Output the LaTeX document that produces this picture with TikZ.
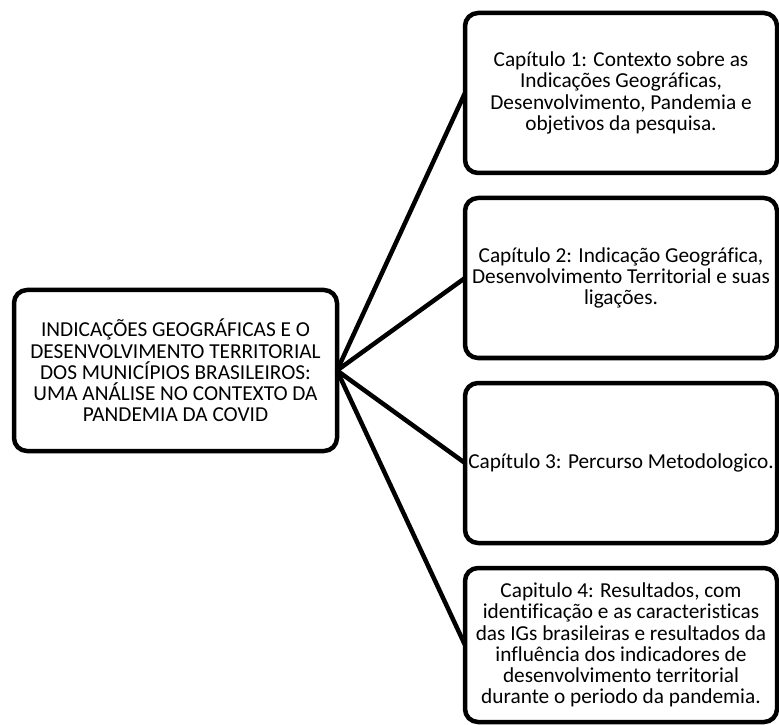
\documentclass[tikz,border=0pt]{standalone}
\usepackage{fontspec}
\setmainfont{Carlito}[Ligatures=NoCommon]
\begin{document}
\begin{tikzpicture}[x=1pt,y=1pt,
  box/.style={draw=black, line width=4.5pt, rounded corners=13pt, align=center,
    inner sep=0pt, outer sep=0pt, font=\fontsize{21.3}{21.3}\selectfont},
  conn/.style={draw=black, line width=4.5pt}]
\useasboundingbox (0,0) rectangle (779,724);
\node[box, minimum width=323pt, minimum height=161pt] (main) at (175.5,353.5)
  {INDICAÇÕES GEOGRÁFICAS E O\\DESENVOLVIMENTO TERRITORIAL\\DOS MUNICÍPIOS BRASILEIROS:\\UMA ANÁLISE NO CONTEXTO DA\\PANDEMIA DA COVID};
\node[box, minimum width=312pt, minimum height=160pt] (c1) at (621,631)
  {Capítulo 1: Contexto sobre as\\Indicações Geográficas,\\Desenvolvimento, Pandemia e\\objetivos da pesquisa.};
\node[box, minimum width=312pt, minimum height=160pt] (c2) at (621,446)
  {Capítulo 2: Indicação Geográfica,\\Desenvolvimento Territorial e suas\\ligações.};
\node[box, minimum width=312pt, minimum height=160pt] (c3) at (621,261)
  {Capítulo 3: Percurso Metodologico.};
\node[box, minimum width=312pt, minimum height=154pt] (c4) at (621,79)
  {Capitulo 4: Resultados, com\\identificação e as caracteristicas\\das IGs brasileiras e resultados da\\influência dos indicadores de\\desenvolvimento territorial\\durante o periodo da pandemia.};
\draw[conn] (main.east) -- (c1.west);
\draw[conn] (main.east) -- (c2.west);
\draw[conn] (main.east) -- (c3.west);
\draw[conn] (main.east) -- (c4.west);
\end{tikzpicture}
\end{document}
